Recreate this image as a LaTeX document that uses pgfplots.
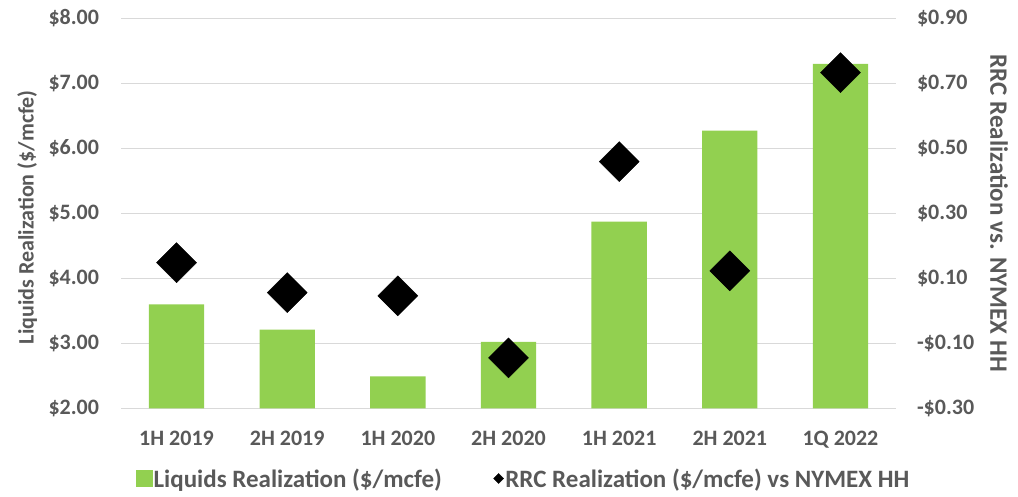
\documentclass[border=0pt]{standalone}
\usepackage{pgfplots}
\pgfplotsset{compat=1.18}
\usepackage{pgfplotstable}
\usepackage{fontspec}
\setmainfont{Carlito}
\definecolor{barg}{HTML}{92D050}
\definecolor{txt}{HTML}{595959}
\definecolor{grd}{HTML}{D9D9D9}

% x = category index, liq = $/mcfe (left), rrc = $/mcfe vs NYMEX HH (right)
\pgfplotstableread{
x liq rrc
0 3.60 0.148
1 3.21 0.056
2 2.49 0.046
3 3.02 -0.145
4 4.87 0.459
5 6.27 0.123
6 7.30 0.733
}\data

\begin{document}
\begin{tikzpicture}
\path[use as bounding box] (-121.2pt,-88.7pt) rectangle (896.8pt,408.3pt);
\pgfplotsset{base/.style={
  scale only axis, width=774.6pt, height=390pt,
  at={(0pt,0pt)}, anchor=south west,
  xmin=-0.5, xmax=6.5,
  axis line style={draw=none}, major tick length=0pt,
  tick label style={font=\fontsize{22}{26}\selectfont\bfseries, text=txt, inner sep=0pt},
  label style={text=txt},
}}

\begin{axis}[base,
  ymin=2, ymax=8, ytick={2,3,4,5,6,7,8},
  yticklabels={\$2.00,\$3.00,\$4.00,\$5.00,\$6.00,\$7.00,\$8.00},
  ymajorgrids, grid style={grd, line width=1.2pt},
  xtick={0,...,6},
  xticklabels={1H 2019,2H 2019,1H 2020,2H 2020,1H 2021,2H 2021,1Q 2022},
  xticklabel style={anchor=north, yshift=-23pt},
  yticklabel style={anchor=east, xshift=-22pt},
  ylabel={\fontsize{22}{26}\selectfont\bfseries Liquids Realization (\$/mcfe)},
  ylabel style={at={(axis description cs:-0.1214,0.49)}, anchor=center},
]
\addplot[ybar, bar width=0.5, fill=barg, draw=none] table[x=x,y=liq]{\data};
\end{axis}

\begin{axis}[base,
  ymin=-0.3, ymax=0.9, ytick={-0.3,-0.1,0.1,0.3,0.5,0.7,0.9},
  yticklabels={-\$0.30,-\$0.10,\$0.10,\$0.30,\$0.50,\$0.70,\$0.90},
  yticklabel pos=right, xtick=\empty,
  yticklabel style={anchor=west, xshift=21pt},
  ylabel={\fontsize{25}{29}\selectfont\bfseries RRC Realization vs. NYMEX HH},
  ylabel style={at={(axis description cs:1.1333,0.50)}, anchor=center, rotate=180},
  legend columns=2,
  legend style={at={(axis description cs:0.0185,-0.180)}, anchor=west,
    draw=none, fill=none, inner sep=0pt,
    font=\fontsize{25}{29}\selectfont\bfseries, text=txt,
    nodes={inner sep=1.5pt},
    /tikz/every even column/.append style={column sep=50pt}},
]
\addlegendimage{legend image code/.code={\fill[barg] (0pt,-8pt) rectangle (16pt,8pt);}}
\addlegendentry{Liquids Realization (\$/mcfe)}
\addplot[only marks, mark=square*, mark size=14.14pt,
  mark options={rotate=45, fill=black, draw=none},
  legend image code/.code={\fill[black] (0pt,0pt) -- (5pt,5pt) -- (10pt,0pt) -- (5pt,-5pt) -- cycle;}]
  table[x=x,y=rrc]{\data};
\addlegendentry{RRC Realization (\$/mcfe) vs NYMEX HH}
\end{axis}
\end{tikzpicture}
\end{document}
